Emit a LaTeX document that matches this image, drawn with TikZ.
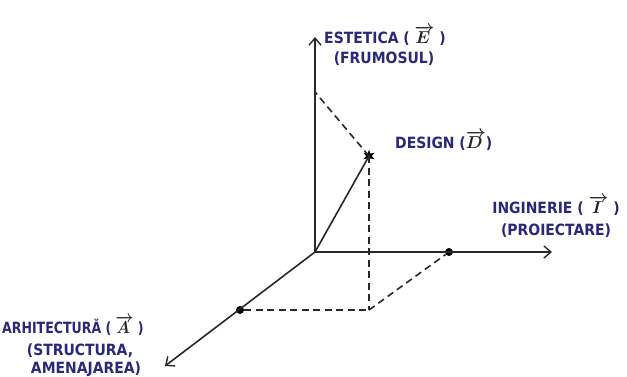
\documentclass[tikz,border=0pt]{standalone}
\usepackage{fontspec}
\usepackage{graphicx}
\newfontfamily\lab{DejaVu Sans Condensed Bold}
\usetikzlibrary{arrows.meta,shapes.geometric}
\definecolor{labblue}{RGB}{42,40,122}
\definecolor{axisgray}{RGB}{40,40,40}
\newcommand{\vecl}[1]{{\color{black!85}\fontsize{19}{19}\selectfont\boldmath$\overrightarrow{#1\,}$}}
\begin{document}
\begin{tikzpicture}[x=1pt,y=-1pt,
  axisline/.style={draw=axisgray,line width=1.6pt,-{Straight Barb[length=7pt,width=12pt,line width=1.4pt]}},
  solidline/.style={draw=axisgray,line width=1.6pt},
  dashline/.style={draw=axisgray,line width=1.6pt,dash pattern=on 7pt off 4.5pt},
  dot/.style={circle,fill=black,inner sep=0pt,minimum size=8pt},
  starpt/.style={star,star points=6,star point ratio=2.4,fill=black,inner sep=0pt,minimum size=13pt},
  lbl/.style={text=labblue,font=\lab\fontsize{15.5}{19}\selectfont,inner sep=0pt,anchor=base}]
\useasboundingbox (0,0) rectangle (627,376);
% points
\coordinate (O) at (315,252);
\coordinate (Etip) at (315,37);
\coordinate (Itip) at (552,252);
\coordinate (Atip) at (165,366);
\coordinate (Eproj) at (315,92);
\coordinate (C) at (369,310);
\node[dot] (Ip) at (449,252) {};
\node[dot] (Ap) at (240,310) {};
\node[starpt] (D) at (369,156) {};
% axes
\draw[axisline] (O) -- (Etip);
\draw[axisline] (O) -- (Itip);
\draw[axisline] (O) -- (Atip);
\draw[solidline] (O) -- (D.center);
% dashed projections
\draw[dashline] (D.center) -- (Eproj);
\draw[dashline] (D.center) -- (C);
\draw[dashline] (Ap) -- (C);
\draw[dashline] (C) -- (Ip);
% labels
\node[lbl] (e1) at (385,43) {ESTETICA ( \vecl{E} )};
\node[lbl] (e2) at (384,63) {(FRUMOSUL)};
\node[lbl,anchor=base west] (d1) at (395,148) {DESIGN (\vecl{D})};
\node[lbl] (i1) at (556,213) {INGINERIE ( \vecl{I} )};
\node[lbl] (i2) at (556,235) {(PROIECTARE)};
\node[lbl,anchor=base west] (a1) at (2,333) {\scalebox{0.9}[1]{ARHITECTURĂ ( \vecl{A} )}};
\node[lbl] (a2) at (80,355) {(STRUCTURA,};
\node[lbl] (a3) at (86,373) {AMENAJAREA)};
\end{tikzpicture}
\end{document}
